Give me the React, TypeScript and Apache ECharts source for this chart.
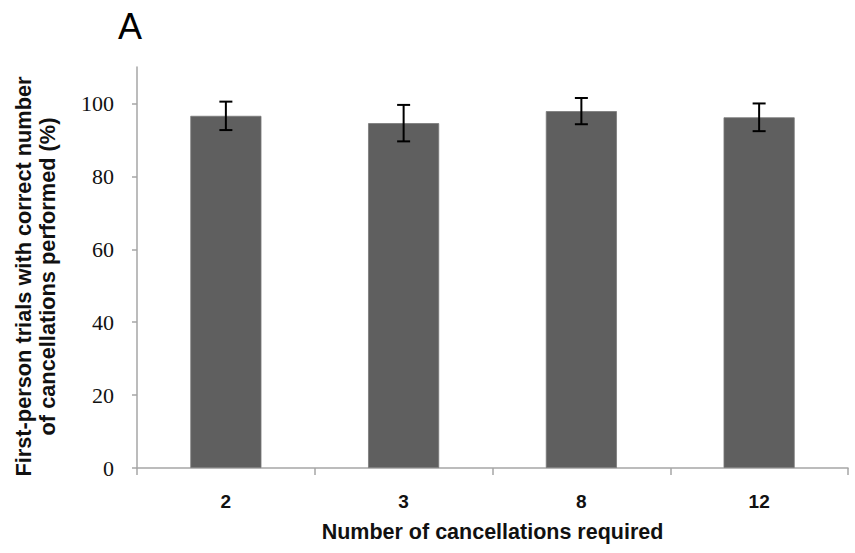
import React, { useEffect, useRef } from "react";
import * as echarts from "echarts";

const categories = ["2", "3", "8", "12"];
const means = [96.6, 94.6, 97.9, 96.2];
const errors = [3.9, 5.0, 3.6, 3.8];
const yTicks = [0, 20, 40, 60, 80, 100];

export default function App() {
  const ref = useRef<HTMLDivElement>(null);
  useEffect(() => {
    if (!ref.current) return;
    const chart = echarts.init(ref.current, null, { renderer: "svg" });
    const axisColor = "#a6a6a6";
    chart.setOption({
      animation: false,
      backgroundColor: "#ffffff",
      title: {
        text: "A",
        left: 113,
        top: 3,
        textStyle: { fontFamily: "Liberation Sans", fontSize: 36, fontWeight: "normal", color: "#000" },
      },
      grid: { left: 137, right: 7, top: 67, bottom: 85 },
      xAxis: {
        type: "category",
        data: categories,
        name: "Number of cancellations required",
        nameLocation: "middle",
        nameGap: 53,
        nameTextStyle: { fontFamily: "Liberation Sans", fontSize: 21.5, fontWeight: "bold", color: "#111" },
        axisLine: { lineStyle: { color: axisColor, width: 1.5 } },
        axisTick: { show: true, length: 7, lineStyle: { color: axisColor, width: 1.5 } },
        axisLabel: { margin: 24, fontFamily: "Liberation Sans", fontSize: 19, fontWeight: "bold", color: "#111" },
      },
      yAxis: {
        type: "value",
        min: 0,
        max: 110,
        interval: 10,
        name: "First-person trials with correct number\nof cancellations performed (%)",
        nameLocation: "middle",
        nameGap: 78,
        nameTextStyle: {
          fontFamily: "Liberation Sans",
          fontSize: 21.75,
          fontWeight: "bold",
          color: "#111",
          lineHeight: 24,
          padding: [0, 18, 0, 0],
        },
        axisLine: { show: true, lineStyle: { color: axisColor, width: 1.5 } },
        axisTick: { show: true, length: 5, customValues: yTicks, lineStyle: { color: axisColor, width: 1.5 } },
        axisLabel: {
          customValues: yTicks,
          margin: 23,
          fontFamily: "Liberation Serif",
          fontSize: 22,
          color: "#111",
        },
        splitLine: { show: false },
      },
      series: [
        {
          type: "bar",
          data: means,
          barWidth: "40%",
          itemStyle: { color: "#5f5f5f", borderColor: "#7a7a7a", borderWidth: 0.8 },
        },
        {
          type: "custom",
          data: means.map((m, i) => [i, m - errors[i], m + errors[i]]),
          renderItem: (params: any, api: any) => {
            const x = api.value(0);
            const lo = api.coord([x, api.value(1)]);
            const hi = api.coord([x, api.value(2)]);
            const hw = 6.5;
            const style = { stroke: "#000", lineWidth: 2 };
            return {
              type: "group",
              children: [
                { type: "line", shape: { x1: lo[0], y1: lo[1], x2: hi[0], y2: hi[1] }, style },
                { type: "line", shape: { x1: lo[0] - hw, y1: lo[1], x2: lo[0] + hw, y2: lo[1] }, style },
                { type: "line", shape: { x1: hi[0] - hw, y1: hi[1], x2: hi[0] + hw, y2: hi[1] }, style },
              ],
            };
          },
          z: 10,
        },
      ],
    });
    return () => chart.dispose();
  }, []);
  return <div ref={ref} style={{ width: 855, height: 553, position: "absolute", left: 0, top: 0 }} />;
}
